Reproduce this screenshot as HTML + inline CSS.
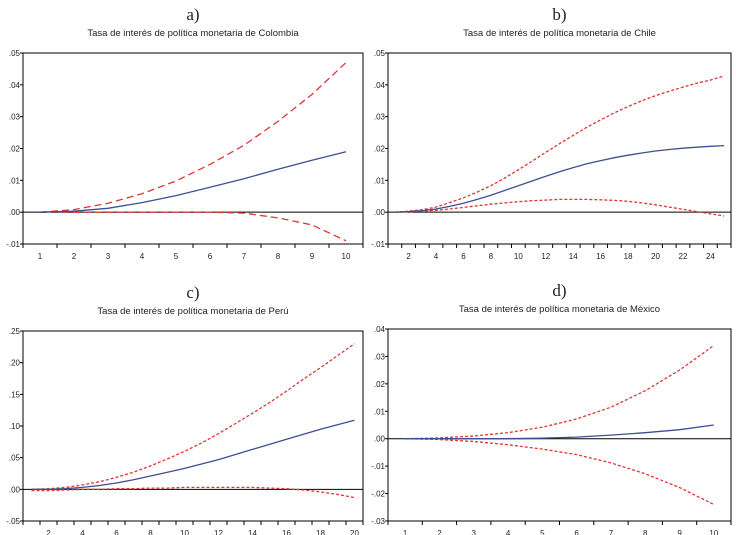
<!DOCTYPE html>
<html><head><meta charset="utf-8"><style>
body{margin:0;background:#fff;width:736px;height:535px;overflow:hidden}
svg{display:block;font-family:"Liberation Sans",sans-serif}
</style></head><body>
<svg id="c" width="736" height="535"></svg>
<script>
const colX = [1,2,3,4,5,6,7,8,9,10];
const colMid = [0,0.0003,0.0012,0.003,0.0052,0.0078,0.0105,0.0135,0.0163,0.019];
const colUp = [0,0.0008,0.0028,0.0058,0.0098,0.015,0.021,0.0285,0.037,0.047];
const colLo = [0,0,0,0,0,0,-0.0003,-0.0018,-0.004,-0.009];
const colTicks = [0.05,0.04,0.03,0.02,0.01,0,-0.01];
const colTickLabels = [".05",".04",".03",".02",".01",".00","-.01"];

const chiX = [1,2,3,4,5,6,7,8,9,10,11,12,13,14,15,16,17,18,19,20,21,22,23,24,25];
const chiMid = [0,0.0002,0.0005,0.001,0.0018,0.0028,0.004,0.0053,0.0068,0.0083,0.0098,0.0113,0.0127,0.014,0.0152,0.0162,0.0171,0.0179,0.0186,0.0192,0.0197,0.0201,0.0204,0.0207,0.0209];
const chiUp = [0,0.0003,0.0008,0.0016,0.003,0.0045,0.0063,0.0083,0.0107,0.0133,0.016,0.0188,0.0215,0.0241,0.0267,0.029,0.0312,0.0332,0.035,0.0366,0.038,0.0393,0.0405,0.0415,0.0428];
const chiLo = [0,0.0001,0.0003,0.0006,0.001,0.0015,0.002,0.0025,0.0029,0.0033,0.0036,0.0038,0.004,0.004,0.004,0.0039,0.0037,0.0034,0.0029,0.0023,0.0016,0.0009,0.0002,-0.0005,-0.0012];
const chiTicks = [0.05,0.04,0.03,0.02,0.01,0,-0.01];
const chiTickLabels = [".05",".04",".03",".02",".01",".00","-.01"];

const perX = [1,2,3,4,5,6,7,8,9,10,11,12,13,14,15,16,17,18,19,20];
const perMid = [0,0,0.001,0.003,0.006,0.01,0.015,0.021,0.027,0.033,0.04,0.047,0.055,0.063,0.071,0.079,0.087,0.095,0.102,0.109];
const perUp = [0,0.001,0.003,0.007,0.012,0.019,0.027,0.037,0.048,0.06,0.073,0.088,0.104,0.12,0.137,0.155,0.174,0.192,0.211,0.23];
const perLo = [-0.002,-0.002,-0.001,0,0,0.001,0.001,0.002,0.002,0.003,0.003,0.003,0.003,0.003,0.002,0.001,-0.001,-0.004,-0.008,-0.013];
const perTicks = [0.25,0.2,0.15,0.1,0.05,0,-0.05];
const perTickLabels = [".25",".20",".15",".10",".05",".00","-.05"];

const mexX = [1,2,3,4,5,6,7,8,9,10];
const mexMid = [0,0,0,0,0.0002,0.0006,0.0013,0.0022,0.0033,0.005];
const mexUp = [0,0.0003,0.001,0.0022,0.0042,0.0072,0.0115,0.0175,0.025,0.034];
const mexLo = [0,-0.0003,-0.001,-0.0022,-0.0038,-0.0058,-0.0088,-0.0128,-0.0178,-0.024];
const mexTicks = [0.04,0.03,0.02,0.01,0,-0.01,-0.02,-0.03];
const mexTickLabels = [".04",".03",".02",".01",".00","-.01","-.02","-.03"];

const NS = "http://www.w3.org/2000/svg";
const svg = document.getElementById('c');
function mk(tag, attrs, parent){const e=document.createElementNS(NS,tag);for(const k in attrs)e.setAttribute(k,attrs[k]);(parent||svg).appendChild(e);return e;}

function panel(o){
  const g = mk('g',{});
  
  
  const n = o.x.length, ymax=o.ticks[0], ymin=o.ticks[o.ticks.length-1];
  const bw = (o.R-o.L)/n;
  const sx = i => o.L + (i+0.5)*bw;
  const sy = v => o.B - (v-ymin)/(ymax-ymin)*(o.B-o.T);
  const lab = mk('text',{x:(o.L+o.R)/2,y:o.T-33,'text-anchor':'middle','font-size':17,'font-family':'"Liberation Serif",serif',fill:'#222'},g);
  lab.textContent=o.letter;
  
  
  const tt = mk('text',{x:(o.L+o.R)/2,y:o.T-17,'text-anchor':'middle','font-size':9.5,fill:'#222'},g);
  tt.textContent=o.title;
  
  
  // y ticks
  o.ticks.forEach((t,i)=>{
    const y=sy(t);
    mk('line',{x1:o.L-3,x2:o.L,y1:y,y2:y,stroke:'#000','stroke-width':1},g);
    const tx=mk('text',{x:o.L-3,y:y+3,'text-anchor':'end','font-size':8,fill:'#222'},g);
    tx.textContent=o.tickLabels[i];
    
    
  });
  // x ticks
  for(let i=0;i<=n;i++){const x=o.L+i*bw;mk('line',{x1:x,x2:x,y1:o.B,y2:o.B+4,stroke:'#000','stroke-width':1},g);}
  o.x.forEach((v,i)=>{
    if(v % o.every !== 0 && o.every>1) return;
    const tx=mk('text',{x:sx(i),y:o.B+15,'text-anchor':'middle','font-size':8,fill:'#222'},g);
    tx.textContent=v;
    
    
  });
  // zero line
  const z=mk('line',{x1:o.L,x2:o.R,y1:sy(0),y2:sy(0),stroke:'#000','stroke-width':1},g);
  
  
  const path = arr => arr.map((v,i)=>(i?'L':'M')+sx(i).toFixed(1)+','+sy(v).toFixed(1)).join('');
  const up=mk('path',{d:path(o.up),fill:'none',stroke:'#e03535','stroke-width':1.3,'stroke-dasharray':o.dash},g);
  
  
  const lo=mk('path',{d:path(o.lo),fill:'none',stroke:'#e03535','stroke-width':1.3,'stroke-dasharray':o.dash},g);
  
  
  const md=mk('path',{d:path(o.mid),fill:'none',stroke:'#3f4f8f','stroke-width':1.3},g);
  
  
  const fr=mk('rect',{x:o.L,y:o.T,width:o.R-o.L,height:o.B-o.T,fill:'none',stroke:'#000','stroke-width':1},g);
  
  
}
panel({name:'panel-colombia',letter:'a)',title:'Tasa de interés de política monetaria de Colombia',L:23,R:363,T:53,B:244,x:colX,mid:colMid,up:colUp,lo:colLo,ticks:colTicks,tickLabels:colTickLabels,every:1,dash:'7,4'});
panel({name:'panel-chile',letter:'b)',title:'Tasa de interés de política monetaria de Chile',L:388,R:731,T:53,B:244,x:chiX,mid:chiMid,up:chiUp,lo:chiLo,ticks:chiTicks,tickLabels:chiTickLabels,every:2,dash:'3,2'});
panel({name:'panel-peru',letter:'c)',title:'Tasa de interés de política monetaria de Perú',L:23,R:363,T:331,B:521,x:perX,mid:perMid,up:perUp,lo:perLo,ticks:perTicks,tickLabels:perTickLabels,every:2,dash:'3,2'});
panel({name:'panel-mexico',letter:'d)',title:'Tasa de interés de política monetaria de México',L:388,R:731,T:329,B:521,x:mexX,mid:mexMid,up:mexUp,lo:mexLo,ticks:mexTicks,tickLabels:mexTickLabels,every:1,dash:'3,2'});
</script>
</body></html>
